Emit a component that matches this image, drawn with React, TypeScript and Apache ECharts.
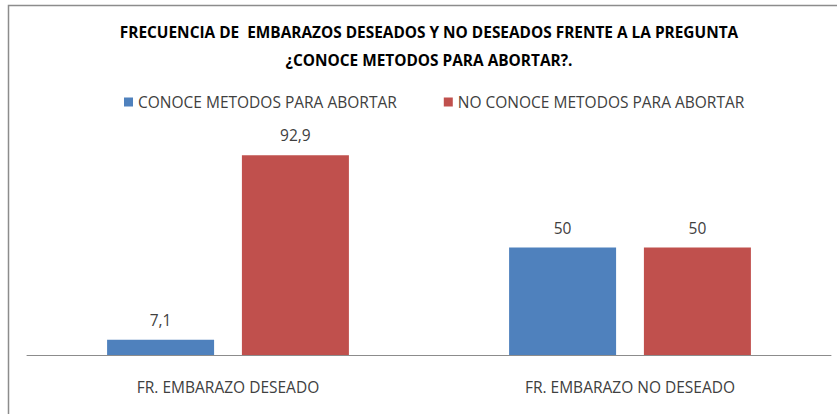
import React, { useEffect, useRef } from "react";
import * as echarts from "echarts";

const categories = ["FR. EMBARAZO DESEADO", "FR. EMBARAZO NO DESEADO"];
const seriesNames = ["CONOCE METODOS PARA ABORTAR", "NO CONOCE METODOS PARA ABORTAR"];
const conoce = [7.1, 50];
const noConoce = [92.9, 50];
const titleLines = [
  "FRECUENCIA DE  EMBARAZOS DESEADOS Y NO DESEADOS FRENTE A LA PREGUNTA",
  "¿CONOCE METODOS PARA ABORTAR?.",
];

const FONT = "'Open Sans', sans-serif";
const fmt = (v: number) => String(v).replace(".", ",");

export default function App() {
  const ref = useRef<HTMLDivElement>(null);
  useEffect(() => {
    document.body.style.margin = "0";
    const chart = echarts.init(ref.current!, undefined, { renderer: "svg" });
    const labelStyle = {
      show: true,
      position: "top",
      distance: 12,
      formatter: (p: any) => fmt(p.value),
      fontFamily: FONT,
      fontSize: 15.5,
      color: "#404040",
    };
    chart.setOption({
      animation: false,
      backgroundColor: "#ffffff",
      graphic: [
        {
          type: "rect",
          shape: { x: 8.5, y: 5.5, width: 840, height: 420 },
          style: { fill: "none", stroke: "#8c8c8c", lineWidth: 1.5 },
          silent: true,
        },
        {
          type: "text",
          x: 429,
          y: 32,
          style: {
            text: titleLines[0],
            font: `bold 15.4px ${FONT}`,
            fill: "#000",
            textAlign: "center",
            textVerticalAlign: "middle",
          },
        },
        {
          type: "text",
          x: 429,
          y: 60,
          style: {
            text: titleLines[1],
            font: `bold 15.4px ${FONT}`,
            fill: "#000",
            textAlign: "center",
            textVerticalAlign: "middle",
          },
        },
      ],
      legend: {
        left: 119,
        top: 89,
        itemWidth: 9,
        itemHeight: 9,
        itemGap: 47,
        icon: "rect",
        textStyle: { fontFamily: FONT, fontSize: 15.5, color: "#404040" },
        data: seriesNames,
      },
      grid: { left: 27, right: 6, top: 140, bottom: 59 },
      xAxis: {
        type: "category",
        data: categories,
        axisLine: { lineStyle: { color: "#8c8c8c", width: 1 } },
        axisTick: { show: false },
        axisLabel: { fontFamily: FONT, fontSize: 15.5, color: "#404040", margin: 24 },
      },
      yAxis: {
        type: "value",
        min: 0,
        max: 100,
        show: false,
        splitLine: { show: false },
      },
      series: [
        {
          name: seriesNames[0],
          type: "bar",
          data: conoce,
          barWidth: 107,
          barGap: "26%",
          itemStyle: { color: "#4f81bd" },
          label: labelStyle,
        },
        {
          name: seriesNames[1],
          type: "bar",
          data: noConoce,
          barWidth: 107,
          barGap: "26%",
          itemStyle: { color: "#c0504d" },
          label: labelStyle,
        },
      ],
    });
    return () => chart.dispose();
  }, []);
  return (
    <div
      ref={ref}
      style={{ position: "absolute", left: 0, top: 0, width: 837, height: 414 }}
    />
  );
}
